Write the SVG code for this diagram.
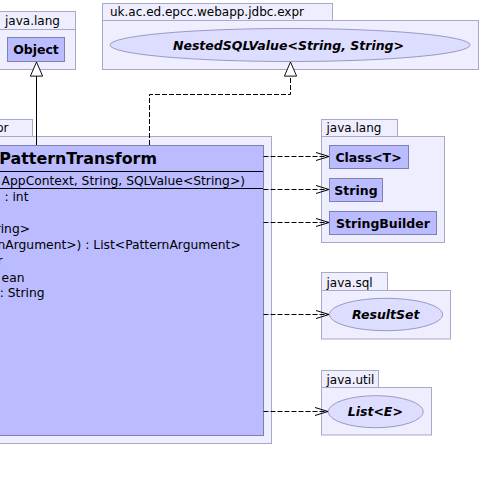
<svg xmlns="http://www.w3.org/2000/svg" width="481" height="481" viewBox="0 0 481 481">
<style>
.pkg{fill:#eeeeff;stroke:#a8a8c8;stroke-width:1}
.cls{fill:#bbbbff;stroke:#8080b0;stroke-width:1}
.ifc{fill:#ddddff;stroke:#9a9ac0;stroke-width:1}
.ptxt{font-family:"DejaVu Sans",sans-serif;font-size:12px;fill:#000}
.ntxt{font-family:"DejaVu Sans",sans-serif;font-size:12.5px;font-weight:bold;fill:#000}
.itxt{font-family:"DejaVu Sans",sans-serif;font-size:12.5px;font-weight:bold;font-style:oblique;fill:#000}
.mtxt{font-family:"DejaVu Sans",sans-serif;font-size:12.3px;fill:#000}
.sep{stroke:#000;stroke-width:1}
.dep{fill:none;stroke:#000;stroke-width:1;stroke-dasharray:5,2}
.sol{fill:none;stroke:#000;stroke-width:1}
</style>
<defs>
<marker id="open" markerUnits="userSpaceOnUse" markerWidth="16" markerHeight="12" refX="14" refY="5" orient="auto" viewBox="0 0 16 10">
<path d="M1,1 L14,5 L1,9" fill="none" stroke="#000" stroke-width="1"/>
</marker>
<marker id="tri" markerUnits="userSpaceOnUse" markerWidth="16" markerHeight="18" refX="15.5" refY="7" orient="auto" viewBox="0 0 17 14">
<path d="M0.5,0.5 L15.5,7 L0.5,13.5 Z" fill="#fff" stroke="#000" stroke-width="1"/>
</marker>
</defs>

<g id="pkg-java-lang-1">
<rect class="pkg" x="-3.5" y="11.5" width="79" height="18"/>
<rect class="pkg" x="-3.5" y="29.5" width="79" height="40"/>
<text class="ptxt" x="5" y="25">java.lang</text>
</g>
<g id="node-Object">
<rect class="cls" x="7.5" y="37.5" width="57" height="24"/>
<text class="ntxt" x="36" y="54" text-anchor="middle">Object</text>
</g>

<g id="pkg-expr-nested">
<rect class="pkg" x="102.5" y="3.5" width="230" height="17.5"/>
<rect class="pkg" x="102.5" y="20.5" width="376" height="49"/>
<text class="ptxt" x="110" y="16">uk.ac.ed.epcc.webapp.jdbc.expr</text>
</g>
<g id="node-NestedSQLValue">
<ellipse class="ifc" cx="290" cy="45" rx="180" ry="16.5"/>
<text class="itxt" x="288.5" y="49.5" text-anchor="middle">NestedSQLValue&lt;String, String&gt;</text>
</g>

<g id="pkg-expr-main">
<rect class="pkg" x="-60.5" y="119.5" width="93" height="17"/>
<rect class="pkg" x="-60.5" y="136.5" width="332" height="307"/>
<text class="ptxt" x="8.5" y="132" text-anchor="end">expr</text>
</g>
<g id="node-PatternTransform">
<rect class="cls" x="-120.5" y="145.5" width="384" height="290"/>
<text class="ntxt" x="157" y="164" text-anchor="end" style="font-size:15.9px">PatternTransform</text>
<line class="sep" x1="-120" y1="171.5" x2="263" y2="171.5"/>
<text class="mtxt" x="245" y="185" text-anchor="end">AppContext, String, SQLValue&lt;String&gt;)</text>
<line class="sep" x1="-120" y1="188.5" x2="263" y2="188.5"/>
<text class="mtxt" x="28.5" y="201" text-anchor="end">: int</text>
<text class="mtxt" x="30" y="233" text-anchor="end">ring&gt;</text>
<text class="mtxt" x="240.7" y="249.3" text-anchor="end">nArgument&gt;) : List&lt;PatternArgument&gt;</text>
<text class="mtxt" x="2.5" y="265" text-anchor="end">r</text>
<text class="mtxt" x="24.5" y="281.5" text-anchor="end">ean</text>
<text class="mtxt" x="44.5" y="297.3" text-anchor="end">: String</text>
</g>

<g id="pkg-java-lang-2">
<rect class="pkg" x="321.5" y="119.5" width="76" height="17"/>
<rect class="pkg" x="321.5" y="136.5" width="123" height="106"/>
<text class="ptxt" x="326.5" y="132">java.lang</text>
</g>
<g id="node-Class">
<rect class="cls" x="329.5" y="145.5" width="79" height="23"/>
<text class="ntxt" x="368.5" y="161.5" text-anchor="middle">Class&lt;T&gt;</text>
</g>
<g id="node-String">
<rect class="cls" x="329.5" y="178.5" width="53" height="23"/>
<text class="ntxt" x="356" y="194.5" text-anchor="middle">String</text>
</g>
<g id="node-StringBuilder">
<rect class="cls" x="329.5" y="211.5" width="107" height="23"/>
<text class="ntxt" x="383" y="227.5" text-anchor="middle">StringBuilder</text>
</g>

<g id="pkg-java-sql">
<rect class="pkg" x="321.5" y="272.5" width="66" height="18"/>
<rect class="pkg" x="321.5" y="290.5" width="129" height="48.5"/>
<text class="ptxt" x="326.5" y="286.5">java.sql</text>
</g>
<g id="node-ResultSet">
<ellipse class="ifc" cx="386" cy="314.5" rx="56.7" ry="16.2"/>
<text class="itxt" x="385.8" y="319" text-anchor="middle">ResultSet</text>
</g>

<g id="pkg-java-util">
<rect class="pkg" x="321.5" y="370.5" width="57" height="17"/>
<rect class="pkg" x="321.5" y="387.5" width="110" height="47.5"/>
<text class="ptxt" x="326.5" y="383.5">java.util</text>
</g>
<g id="node-List">
<ellipse class="ifc" cx="375.8" cy="411.7" rx="47.5" ry="16"/>
<text class="itxt" x="375.3" y="416" text-anchor="middle">List&lt;E&gt;</text>
</g>

<g id="connectors">
<path class="sol" d="M36.5,145 L36.5,62" marker-end="url(#tri)"/>
<path class="dep" d="M149.5,145 L149.5,94.5 L290.5,94.5 L290.5,62" marker-end="url(#tri)"/>
<path class="dep" d="M263.5,156.5 L329,156.5" marker-end="url(#open)"/>
<path class="dep" d="M263.5,189.5 L329,189.5" marker-end="url(#open)"/>
<path class="dep" d="M263.5,222.5 L329,222.5" marker-end="url(#open)"/>
<path class="dep" d="M263.5,314.5 L329,314.5" marker-end="url(#open)"/>
<path class="dep" d="M263.5,411.5 L328,411.5" marker-end="url(#open)"/>
</g>
</svg>
